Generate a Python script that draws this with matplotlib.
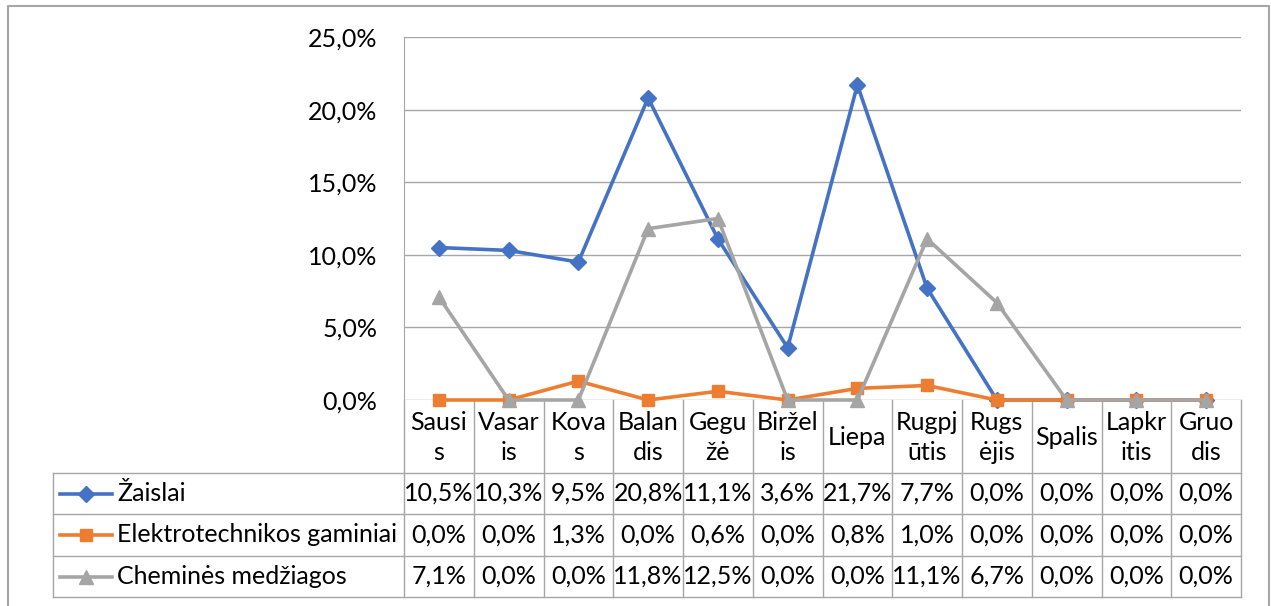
import matplotlib
matplotlib.use("Agg")
import matplotlib.pyplot as plt
from matplotlib.ticker import FuncFormatter

plt.rcParams['font.family'] = ['Lato', 'DejaVu Sans']

months = ["Sausi\ns", "Vasar\nis", "Kova\ns", "Balan\ndis", "Gegu\nžė", "Biržel\nis",
          "Liepa", "Rugpj\nūtis", "Rugs\nėjis", "Spalis", "Lapkr\nitis", "Gruo\ndis"]
series_names = ["Žaislai", "Elektrotechnikos gaminiai", "Cheminės medžiagos"]
zaislai = [10.5, 10.3, 9.5, 20.8, 11.1, 3.6, 21.7, 7.7, 0.0, 0.0, 0.0, 0.0]
elektro = [0.0, 0.0, 1.3, 0.0, 0.6, 0.0, 0.8, 1.0, 0.0, 0.0, 0.0, 0.0]
chemines = [7.1, 0.0, 0.0, 11.8, 12.5, 0.0, 0.0, 11.1, 6.7, 0.0, 0.0, 0.0]
yticks = [0, 5, 10, 15, 20, 25]

colors = ['#4472C4', '#ED7D31', '#A5A5A5']
markers = ['D', 's', '^']
msizes = [8, 9, 10]
grid_c = '#A6A6A6'
FS = 18

W, H = 1271, 606
fig = plt.figure(figsize=(W / 100, H / 100), dpi=100)

# pixel layout
L, R, T, B = 404, 1241, 37, 400
n = len(months)
cw = (R - L) / n
ax = fig.add_axes([L / W, 1 - B / H, (R - L) / W, (B - T) / H])
x = list(range(n))
for vals, c, m, ms in zip([zaislai, elektro, chemines], colors, markers, msizes):
    ax.plot(x, vals, color=c, lw=2.6, marker=m, markersize=ms, clip_on=False, zorder=3)
ax.set_xlim(-0.5, n - 0.5)
ax.set_ylim(0, 25)
ax.set_yticks(yticks)
ax.yaxis.set_major_formatter(FuncFormatter(lambda v, p: f"{v:.1f}%".replace('.', ',')))
ax.tick_params(axis='y', length=0, labelsize=FS, pad=19)
ax.set_xticks([])
ax.grid(axis='y', color=grid_c, lw=1)
ax.set_axisbelow(True)
for s in ['top', 'right', 'bottom']:
    ax.spines[s].set_visible(False)
ax.spines['left'].set_color(grid_c)
ax.patch.set_alpha(0)

# overlay in pixel coordinates for the data table
ov = fig.add_axes([0, 0, 1, 1], zorder=-1)
ov.set_xlim(0, W)
ov.set_ylim(H, 0)
ov.axis('off')

# chart frame
ov.plot([8, 8, 1269, 1269], [H + 5, 6, 6, H + 5], color='#A6A6A6', lw=1.5)

rows = [473, 514, 556, 597]
tab_left = 53
for yy in rows:
    ov.plot([tab_left, R], [yy, yy], color=grid_c, lw=1)
ov.plot([tab_left, tab_left], [rows[0], rows[-1]], color=grid_c, lw=1)
for i in range(n + 1):
    xx = L + i * cw
    ov.plot([xx, xx], [B, rows[-1]], color=grid_c, lw=1)

for i, lab in enumerate(months):
    ov.text(L + (i + 0.5) * cw, (B + rows[0]) / 2 + 1, lab, ha='center', va='center',
            fontsize=FS, linespacing=1.32)

for r, (name, vals, c, m, ms) in enumerate(zip(series_names, [zaislai, elektro, chemines],
                                               colors, markers, msizes)):
    yc = (rows[r] + rows[r + 1]) / 2
    ov.plot([60, 112], [yc, yc], color=c, lw=2.6)
    ov.plot([86], [yc], color=c, marker=m, markersize=ms)
    ov.text(117, yc, name, ha='left', va='center', fontsize=FS)
    for i, v in enumerate(vals):
        ov.text(L + (i + 0.5) * cw, yc, f"{v:.1f}%".replace('.', ','), ha='center',
                va='center', fontsize=FS)

fig.savefig("out.png", dpi=100)
